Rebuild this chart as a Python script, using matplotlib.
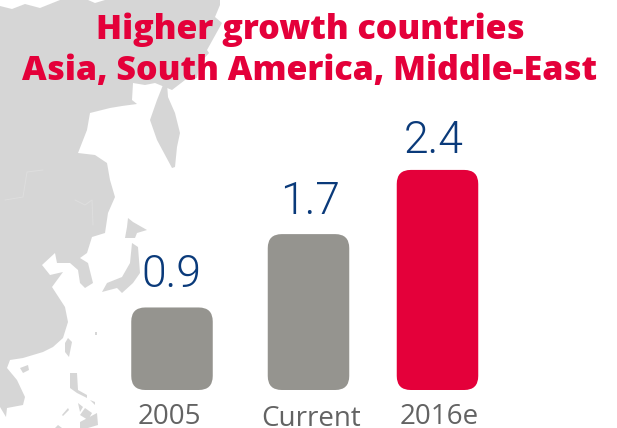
import matplotlib
matplotlib.use('Agg')
import matplotlib.pyplot as plt
from matplotlib.patches import FancyBboxPatch, Polygon

categories = ['2005', 'Current', '2016e']
values = [0.9, 1.7, 2.4]
bar_colors = ['#95948f', '#95948f', '#e4003a']
centers = [172, 308.5, 437.5]
value_x = [171, 310, 434]
value_gap = [20, 20, 17]
label_x = [169, 311.5, 439]
label_y = [424, 426, 424]

title_lines = ['Higher growth countries', 'Asia, South America, Middle-East']

W, H = 617, 428
BASE_Y = 390
PX_PER_UNIT = 91.7
BAR_W = 81.5

# map shapes, in image pixels
mainland = [(0, 6), (12, 9), (25, 4), (40, 8), (60, 0), (88, 0), (95, 3), (105, 0), (220, 0), (220, 5), (215, 17),
            (222, 23), (207, 50), (209, 53), (200, 63), (197, 78), (185, 80), (172, 90), (155, 83), (145, 85),
            (133, 83), (132, 100), (137, 104), (122, 106), (110, 108), (90, 113), (87, 130), (78, 153), (95, 155),
            (107, 163), (110, 180), (115, 197), (108, 213), (105, 233), (92, 237), (87, 253), (80, 258), (88, 263),
            (93, 283), (85, 288), (80, 283), (78, 270), (70, 263), (57, 263), (55, 253), (42, 265), (50, 275),
            (63, 272), (52, 287), (65, 307), (68, 322), (63, 338), (53, 347), (43, 352), (23, 358), (10, 360),
            (7, 368), (17, 380), (25, 397), (23, 405), (7, 408), (6, 417), (0, 407)]
sakhalin = [(165, 80), (157, 100), (150, 120), (157, 140), (172, 168), (175, 167), (177, 147), (180, 133), (175, 113),
            (168, 97), (167, 83)]
hokkaido = [(128, 218), (133, 222), (147, 230), (137, 233), (135, 238), (125, 238), (127, 227)]
honshu = [(132, 243), (138, 247), (140, 273), (133, 283), (122, 293), (117, 288), (102, 292), (107, 283), (122, 277),
          (130, 263)]
taiwan = [(68, 338), (72, 342), (69, 357), (65, 352), (65, 343)]
hainan = [(20, 368), (28, 365), (29, 370), (23, 373)]
luzon = [(70, 373), (77, 373), (78, 390), (87, 395), (87, 398), (77, 393), (70, 388)]
visayas = [(78, 403), (83, 407), (80, 412)]
cebu = [(85, 408), (92, 413), (88, 420), (80, 415)]
mindanao = [(80, 422), (97, 413), (98, 425), (88, 428), (80, 428)]
palawan = [(62, 415), (68, 408), (69, 410), (63, 416)]
borneo = [(55, 428), (58, 425), (62, 428)]
samar = [(90, 400), (95, 402), (95, 405)]
okinawa = [(95, 332), (97, 332), (97, 335), (95, 335)]
islands = [mainland, sakhalin, hokkaido, honshu, taiwan, hainan, luzon, visayas, cebu, mindanao, palawan, borneo,
           samar, okinawa]

# faint country borders
borders = [[(5, 200), (23, 197), (27, 172), (43, 170)],
           [(75, 200), (85, 205), (92, 200), (93, 225)]]

fig = plt.figure(figsize=(W / 100, H / 100), dpi=100)

bg = fig.add_axes([0, 0, 1, 1])
bg.set_xlim(0, W)
bg.set_ylim(H, 0)
bg.axis('off')
for shape in islands:
    bg.add_patch(Polygon(shape, closed=True, fc='#d6d6d6', ec='none'))
for line in borders:
    bg.plot(*zip(*line), color='#dedede', lw=0.7)

ax = fig.add_axes([0, (H - BASE_Y) / H, 1, BASE_Y / H])
ax.patch.set_alpha(0)
ax.set_xlim(0, W)
ax.set_ylim(0, BASE_Y / PX_PER_UNIT)
ax.axis('off')

for i, v in enumerate(values):
    cx = centers[i]
    ax.add_patch(FancyBboxPatch((cx - BAR_W / 2, 0), BAR_W, v,
                                boxstyle='round,pad=0,rounding_size=14',
                                mutation_aspect=1 / PX_PER_UNIT, fc=bar_colors[i], ec='none'))
    ax.text(value_x[i], v + value_gap[i] / PX_PER_UNIT, f'{v:.1f}', ha='center', va='baseline', fontsize=32,
            family='Roboto', weight=300, color='#0a3a7a')
    fig.text(label_x[i] / W, 1 - label_y[i] / H, categories[i], ha='center', va='baseline', fontsize=20,
             family='Open Sans', color='#636363')

fig.text(310 / W, 1 - 39 / H, title_lines[0], ha='center', va='baseline', fontsize=24.5,
         family='Open Sans', weight=800, color='#e4003a')
fig.text(310 / W, 1 - 80 / H, title_lines[1], ha='center', va='baseline', fontsize=24.5,
         family='Open Sans', weight=800, color='#e4003a')

fig.savefig('out.png', dpi=100)
